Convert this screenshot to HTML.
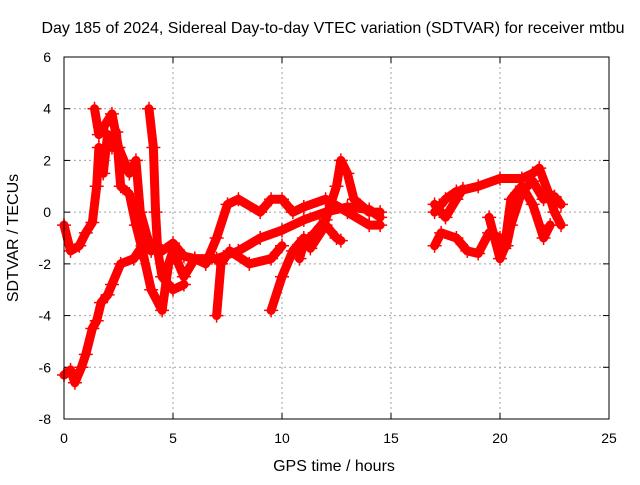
<!DOCTYPE html>
<html><head><meta charset="utf-8"><style>
body{margin:0;background:#fff;font-family:"Liberation Sans",sans-serif}
svg text{font-family:"Liberation Sans",sans-serif;font-size:14px;fill:#000}
svg text.big{font-size:16px}
</style></head><body>
<svg width="640" height="480" id="c">
<text class="big" x="333" y="33" text-anchor="middle">Day 185 of 2024, Sidereal Day-to-day VTEC variation (SDTVAR) for receiver mtbu</text>
<text class="big" x="334" y="471" text-anchor="middle">GPS time / hours</text>
<text class="big" transform="translate(18,238) rotate(-90)" text-anchor="middle">SDTVAR / TECUs</text>
<g id="grid"></g><g id="ticks"></g><g id="marks"></g>
<rect x="64" y="57" width="545" height="362" fill="none" stroke="#000" stroke-width="1"/>
</svg>
<script>
const xTicks=[0,5,10,15,20,25];
const yTicks=[-8,-6,-4,-2,0,2,4,6];
const trackA=[[0,-6.3],[0.3,-6.1],[0.5,-6.6],[0.8,-6],[1,-5.5],[1.3,-4.5],[1.5,-4.2],[1.7,-3.5],[2,-3.2],[2.2,-2.8],[2.6,-2],[3.2,-1.8],[3.6,-1.3],[4,-1.2],[4.5,-1.5],[5,-1.2],[5.5,-1.7],[6,-1.8],[7,-1.8],[8,-1.5],[9,-1],[10,-0.7],[11,-0.3],[12,0],[13,0.2],[14,0.1],[14.5,-0.2]];
const trackB=[[0,-0.5],[0.3,-1.5],[0.7,-1.3],[1,-0.8],[1.3,-0.4],[1.5,1],[1.6,2.5],[1.8,1.5],[2,3],[2.2,2.5],[2.4,3.1],[2.6,1],[3,0.7],[3.3,-0.5],[3.6,-1.5],[4,-3],[4.5,-3.8],[4.8,-2],[5,-1.5],[5.5,-2.5],[6,-1.8],[6.5,-2],[7,-1],[7.5,0.3],[8,0.5],[9,0],[9.5,0.5],[10,0.5],[10.5,0],[11,0.2],[12,0.5],[13,0],[14,-0.5],[14.5,-0.5]];
const trackC=[[3.9,4],[4.1,2.5],[4.2,0],[4.3,-1.5],[4.5,-2.5],[5,-3],[5.5,-2.8]];
const trackD=[[1.4,4],[1.6,3],[2.2,3.8],[2.5,2.5],[3,1.5],[3.3,2],[3.5,0],[4,-1.5]];
const trackE=[[7,-4],[7.2,-2],[7.6,-1.5],[8.5,-2],[9.5,-1.8],[10,-1.3]];
const trackF=[[9.5,-3.8],[10,-2.5],[10.5,-1.5],[11,-1],[11.3,-1.4],[12,-0.5],[12.5,-1],[12.7,-1.1]];
const trackG=[[10.8,-1.8],[11,-1.2],[11.5,-0.8],[12,-0.3],[12.5,1],[12.7,2],[13,1.5],[13.3,0.5],[14,0],[14.5,0]];
const trackH=[[17,-1.3],[17.3,-0.8],[18,-1],[18.5,-1.5],[19,-1.6],[19.5,-0.8],[20,-1],[20.3,-1.3],[20.5,-0.5],[21,0.8],[21.5,1.2],[22,0.5],[22.5,0.6],[22.8,0.3]];
const trackI=[[17,0],[17.5,0.5],[18,0.8],[19,1],[20,1.3],[21,1.3],[21.5,1.5],[21.8,1.7],[22.2,0.8],[22.5,0],[22.8,-0.5]];
const trackJ=[[17,0.3],[17.5,-0.2],[18,0.5],[18.3,0.9]];
const trackK=[[19.5,-0.2],[20,-1.8],[20.2,-1.4],[20.5,0.5],[21,1],[21.5,0.3],[22,-1],[22.3,-0.5]];
const tracks=[trackA,trackB,trackC,trackD,trackE,trackF,trackG,trackH,trackI,trackJ,trackK];
const X=h=>64+h*545/25, Y=v=>57+(6-v)*362/14;
const NS='http://www.w3.org/2000/svg';
const grid=document.getElementById('grid'),ticks=document.getElementById('ticks'),marks=document.getElementById('marks');
function mk(tag,attrs,parent){const e=document.createElementNS(NS,tag);for(const k in attrs)e.setAttribute(k,attrs[k]);parent.appendChild(e);return e;}
xTicks.forEach(t=>{const x=X(t);
 if(t>0&&t<25){const l=mk('line',{x1:x,x2:x,y1:57,y2:419,stroke:'#a0a0a0','stroke-dasharray':'2,3'},grid);}
 const tx=mk('text',{x:x,y:443,'text-anchor':'middle'},ticks);tx.textContent=t;
 
 
 mk('line',{x1:x,x2:x,y1:419,y2:413,stroke:'#000'},ticks);mk('line',{x1:x,x2:x,y1:57,y2:63,stroke:'#000'},ticks);});
yTicks.forEach(t=>{const y=Y(t);
 if(t>-8&&t<6){const l=mk('line',{x1:64,x2:609,y1:y,y2:y,stroke:'#a0a0a0','stroke-dasharray':'2,3'},grid);}
 const tx=mk('text',{x:51,y:y+5,'text-anchor':'end'},ticks);tx.textContent=t;
 
 
 mk('line',{x1:64,x2:70,y1:y,y2:y,stroke:'#000'},ticks);mk('line',{x1:603,x2:609,y1:y,y2:y,stroke:'#000'},ticks);});
tracks.forEach((tr,i)=>{
 const p=mk('polyline',{points:tr.map(d=>X(d[0])+','+Y(d[1])).join(' '),fill:'none',stroke:'#f00','stroke-width':9,'stroke-linejoin':'round','stroke-linecap':'round'},marks);
 
 
 tr.forEach(d=>{const x=X(d[0]),y=Y(d[1]);
  const m=mk('path',{d:`M${x-7},${y}H${x+7}M${x},${y-7}V${y+7}`,stroke:'#f00','stroke-width':1.5},marks);
  
  });
});
</script>
</body></html>
